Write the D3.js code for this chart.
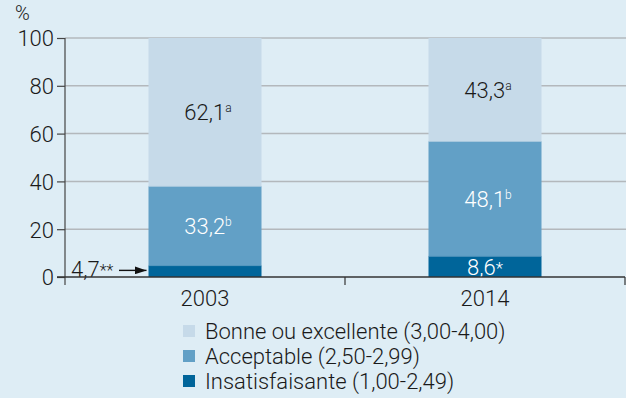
<!DOCTYPE html>
<html>
<head>
<meta charset="utf-8">
<script src="https://cdn.jsdelivr.net/npm/d3@7"></script>
<style>
  html, body { margin: 0; padding: 0; background: #deedf5; }
  svg { display: block; font-family: Roboto, "Liberation Sans", sans-serif; font-weight: 300; }
</style>
</head>
<body>
<svg id="chart" width="626" height="398"></svg>
<script>
// Years on the x axis
const years = ["2003", "2014"];
// Category names, bottom to top of the stack
const categories = ["Insatisfaisante (1,00-2,49)", "Acceptable (2,50-2,99)", "Bonne ou excellente (3,00-4,00)"];
// Percentages per category, one value per year
const insatisfaisante = [4.7, 8.6];
const acceptable = [33.2, 48.1];
const bonne = [62.1, 43.3];
// Significance marks printed after each value
const marksInsat = ["**", "*"];
const marksAccept = ["b", "b"];
const marksBonne = ["a", "a"];
// Y axis ticks
const yTicks = [0, 20, 40, 60, 80, 100];

const colors = ["#00659a", "#62a0c6", "#c6dae9"];
const textColors = ["#ffffff", "#ffffff", "#1a1a1a"];
const FS = 22;

const svg = d3.select("#chart");
const W = 626;

const x = d3.scaleBand().domain(years).range([65, 625]).paddingInner(0).paddingOuter(0);
const y = d3.scaleLinear().domain([0, 100]).range([277, 38]);
const barW = 113;

// gridlines
svg.append("g").selectAll("line").data(yTicks.filter(d => d > 0)).join("line")
  .attr("x1", 65).attr("x2", W)
  .attr("y1", d => y(d)).attr("y2", d => y(d))
  .attr("stroke", "#b3b8bc").attr("stroke-width", 1.5);

// stacked data
const rows = years.map((yr, i) => ({ year: yr, v: [insatisfaisante[i], acceptable[i], bonne[i]], m: [marksInsat[i], marksAccept[i], marksBonne[i]] }));
const stack = d3.stack().keys([0, 1, 2]).value((d, k) => d.v[k]);
const series = stack(rows);

const bx = d => x(d.data.year) + x.bandwidth() / 2 - barW / 2;

svg.append("g").selectAll("g").data(series).join("g")
  .attr("fill", (s, i) => colors[i])
  .selectAll("rect").data(s => s).join("rect")
  .attr("x", bx).attr("width", barW)
  .attr("y", d => y(d[1])).attr("height", d => y(d[0]) - y(d[1]));

// thin separator between segments
series.forEach((s, k) => {
  if (k === 0) return;
  svg.append("g").selectAll("line").data(s).join("line")
    .attr("x1", bx).attr("x2", d => bx(d) + barW)
    .attr("y1", d => y(d[0])).attr("y2", d => y(d[0]))
    .attr("stroke", k === 2 ? "#9fc2da" : "#2f7fae").attr("stroke-width", 1).attr("opacity", 0.6);
});

// value labels with superscript marks
function valueLabel(g, cx, cy, val, mark, color, star) {
  const t = g.append("text").attr("x", cx).attr("y", cy)
    .attr("text-anchor", "middle").attr("fill", color).attr("font-size", FS);
  t.append("tspan").text(d3.format(".1f")(val).replace(".", ","));
  if (star) {
    t.append("tspan").attr("font-size", 17).attr("dy", -1).text(mark);
  } else {
    t.append("tspan").attr("font-size", 12).attr("dy", -8).text(mark);
  }
}

const lab = svg.append("g");
series.forEach((s, k) => {
  s.forEach((d, i) => {
    const cx = x(d.data.year) + x.bandwidth() / 2 + (k === 0 ? 0 : 3);
    if (k === 0 && i === 0) return; // small segment labelled outside the bar
    const cy = k === 0 ? y(d[1]) + 19 : (y(d[0]) + y(d[1])) / 2 + 8;
    valueLabel(lab, cx, cy, d.data.v[k], d.data.m[k], textColors[k], k === 0);
  });
});

// outside label with arrow for the 2003 small segment
const first = series[0][0];
const outT = lab.append("text").attr("x", 71).attr("y", 277).attr("fill", "#1a1a1a").attr("font-size", FS);
outT.append("tspan").text(d3.format(".1f")(first.data.v[0]).replace(".", ","));
outT.append("tspan").attr("font-size", 16).attr("dy", -1).text(first.data.m[0]);
const ay = y(first[1] / 2) - 1;
svg.append("defs").append("marker").attr("id", "arr").attr("viewBox", "0 0 12 8")
  .attr("refX", 12).attr("refY", 4).attr("markerWidth", 12).attr("markerHeight", 8)
  .attr("markerUnits", "userSpaceOnUse").attr("orient", "auto")
  .append("path").attr("d", "M0,0L12,4L0,8z").attr("fill", "#111");
svg.append("line").attr("x1", 119).attr("x2", bx(first) - 2)
  .attr("y1", ay).attr("y2", ay).attr("stroke", "#111").attr("stroke-width", 1.4)
  .attr("marker-end", "url(#arr)");

// y axis
const yAxis = d3.axisLeft(y).tickValues(yTicks).tickSize(8).tickPadding(3);
const gy = svg.append("g").attr("transform", "translate(65,0)").call(yAxis);
gy.select(".domain").attr("d", "M0,38V285").attr("stroke", "#444").attr("stroke-width", 1.2);
gy.selectAll(".tick line").attr("stroke", "#444").attr("stroke-width", 1.2);
gy.selectAll(".tick text").attr("font-size", FS).attr("fill", "#1a1a1a")
  .attr("font-family", "Roboto, 'Liberation Sans', sans-serif").attr("font-weight", 300).attr("dy", "0.36em");

svg.append("text").attr("x", 15).attr("y", 20).attr("font-size", 20).attr("fill", "#1a1a1a").text("%");

// x axis: baseline with ticks at band boundaries
svg.append("line").attr("x1", 57).attr("x2", 625).attr("y1", y(0)).attr("y2", y(0))
  .attr("stroke", "#333").attr("stroke-width", 1.3);
const bounds = [x(years[1]), x(years[1]) + x.bandwidth()];
svg.append("g").selectAll("line").data(bounds).join("line")
  .attr("x1", d => d).attr("x2", d => d).attr("y1", y(0)).attr("y2", y(0) + 8)
  .attr("stroke", "#333").attr("stroke-width", 1.2);
svg.append("g").selectAll("text").data(years).join("text")
  .attr("x", d => x(d) + x.bandwidth() / 2).attr("y", 306)
  .attr("text-anchor", "middle").attr("font-size", FS).attr("fill", "#1a1a1a").text(d => d);

// legend, top entry first
const legendOrder = [2, 1, 0];
const lg = svg.append("g").selectAll("g").data(legendOrder).join("g")
  .attr("transform", (d, i) => `translate(183,${325 + i * 25})`);
lg.append("rect").attr("width", 12).attr("height", 12).attr("fill", d => colors[d]);
lg.append("text").attr("x", 22).attr("y", 14).attr("font-size", FS).attr("fill", "#1a1a1a").text(d => categories[d]);
</script>
</body>
</html>
